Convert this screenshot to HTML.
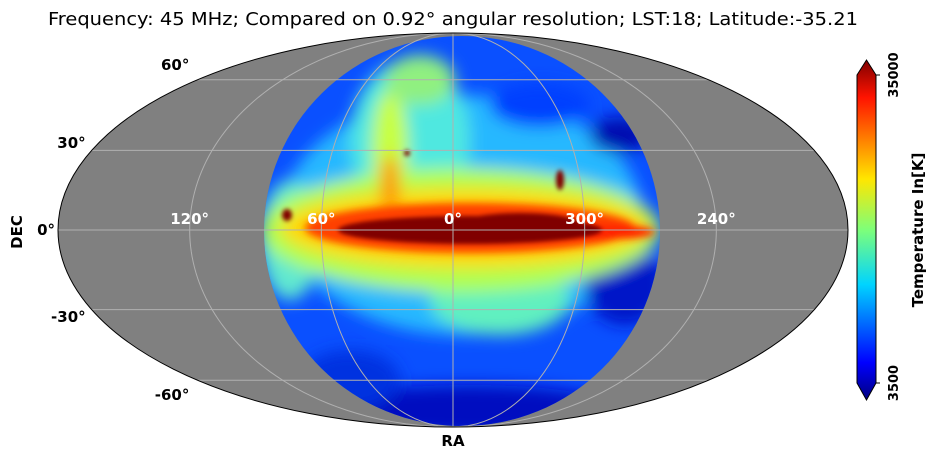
<!DOCTYPE html>
<html><head><meta charset="utf-8"><style>
body{margin:0;background:#fff;}
svg{display:block;font-family:"DejaVu Sans","Liberation Sans",sans-serif;}
</style></head><body>
<svg id="chart" width="936" height="458" viewBox="0 0 936 458" xmlns="http://www.w3.org/2000/svg">
<defs>
<clipPath id="ellClip"><ellipse cx="453" cy="230" rx="395" ry="197"/></clipPath>
<clipPath id="diskClip"><ellipse cx="462" cy="231" rx="198" ry="195"/></clipPath>
<filter id="b8" x="-50%" y="-50%" width="200%" height="200%"><feGaussianBlur stdDeviation="8"/></filter>
<filter id="b4" x="-50%" y="-50%" width="200%" height="200%"><feGaussianBlur stdDeviation="4"/></filter>
<filter id="b2" x="-50%" y="-50%" width="200%" height="200%"><feGaussianBlur stdDeviation="2"/></filter>
<linearGradient id="jet" x1="0" y1="1" x2="0" y2="0">
<stop offset="0" stop-color="#00007f"/><stop offset="0.11" stop-color="#0000ff"/>
<stop offset="0.34" stop-color="#00d4ff"/><stop offset="0.5" stop-color="#7dff7a"/>
<stop offset="0.65" stop-color="#ffe600"/><stop offset="0.89" stop-color="#ff1300"/>
<stop offset="1" stop-color="#7f0000"/></linearGradient>
</defs>
<text x="48" y="25" textLength="810" lengthAdjust="spacingAndGlyphs" font-size="18" fill="#000">Frequency: 45 MHz; Compared on 0.92° angular resolution; LST:18; Latitude:-35.21</text>
<ellipse cx="453" cy="230" rx="395" ry="197" fill="#808080"/>
<g clip-path="url(#diskClip)">
<rect x="250" y="30" width="420" height="400" fill="#0a50ff"/>
<g filter="url(#b8)">
<ellipse cx="462" cy="215" rx="180" ry="120" fill="#28b8ff"/>
<ellipse cx="410" cy="140" rx="60" ry="80" fill="#50e8e0"/>
<ellipse cx="500" cy="300" rx="70" ry="35" fill="#60f0c0"/>
<ellipse cx="290" cy="240" rx="30" ry="60" fill="#60e8d0"/>
<ellipse cx="470" cy="410" rx="150" ry="25" fill="#0010c0"/>
<ellipse cx="350" cy="380" rx="50" ry="30" fill="#0030e0"/>
<ellipse cx="620" cy="135" rx="30" ry="18" fill="#0010b0"/>
<ellipse cx="625" cy="285" rx="40" ry="40" fill="#0018c8"/>
<ellipse cx="540" cy="105" rx="50" ry="22" fill="#0040ff"/>
<ellipse cx="460" cy="230" rx="200" ry="62" fill="#b0ff50"/>
<ellipse cx="390" cy="150" rx="18" ry="60" fill="#c8ff40"/>
<ellipse cx="420" cy="80" rx="35" ry="25" fill="#90f080"/>
<ellipse cx="465" cy="228" rx="185" ry="40" fill="#ffd800"/>
<ellipse cx="390" cy="185" rx="9" ry="30" fill="#ff9000"/>
</g>
<g filter="url(#b4)">
<ellipse cx="470" cy="228" rx="165" ry="25" fill="#ff4000"/>
<ellipse cx="610" cy="232" rx="45" ry="7" fill="#ff2000"/>
</g>
<g filter="url(#b2)">
<ellipse cx="470" cy="230" rx="132" ry="14" fill="#800000"/>
<ellipse cx="520" cy="224" rx="60" ry="11" fill="#800000"/>
<ellipse cx="560" cy="180" rx="4" ry="10" fill="#800000"/>
<ellipse cx="287" cy="215" rx="5" ry="6" fill="#800000"/>
<circle cx="407" cy="153" r="3" fill="#800000"/>
</g>
</g>
<g id="grid" clip-path="url(#ellClip)" stroke="#b0b0b0" stroke-width="1" fill="none"></g>
<ellipse cx="453" cy="230" rx="395" ry="197" fill="none" stroke="#000" stroke-width="1"/>
<g id="labels"></g>
<text x="453" y="446" text-anchor="middle" font-size="15" font-weight="bold">RA</text>
<text transform="translate(22,232) rotate(-90)" text-anchor="middle" font-size="15" font-weight="bold">DEC</text>
<g>
<polygon points="857,75 866.5,60 876,75 876,383 866.5,400 857,383" fill="url(#jet)" stroke="#000" stroke-width="1"/>
<line x1="876" y1="75" x2="880" y2="75" stroke="#000"/>
<line x1="876" y1="383" x2="880" y2="383" stroke="#000"/>
<text transform="translate(898,75) rotate(-90)" text-anchor="middle" font-size="13" font-weight="bold">35000</text>
<text transform="translate(898,383) rotate(-90)" text-anchor="middle" font-size="13" font-weight="bold">3500</text>
<text transform="translate(923,230) rotate(-90)" text-anchor="middle" font-size="15" font-weight="bold">Temperature In[K]</text>
</g>
</svg>
<script>
const decTicks=[60,30,0,-30,-60];
const decLabels=["60°","30°","0°","-30°","-60°"];
const raTicks=[120,60,0,-60,-120];
const raLabels=["120°","60°","0°","300°","240°"];
const cx=453,cy=230,rx=395,ry=197;
const NS="http://www.w3.org/2000/svg";
function thetaOf(lat){const phi=lat*Math.PI/180;let t=phi;for(let i=0;i<50;i++){const f=2*t+Math.sin(2*t)-Math.PI*Math.sin(phi);const d=2+2*Math.cos(2*t);if(Math.abs(d)<1e-9)break;t-=f/d;}return t;}
function yOf(lat){return cy-ry*Math.sin(thetaOf(lat));}
function xOf(lon,lat){return cx-rx*(lon/180)*Math.cos(thetaOf(lat));}
const grid=document.getElementById('grid'),labels=document.getElementById('labels');
decTicks.forEach((d,i)=>{const y=yOf(d);
const l=document.createElementNS(NS,'line');l.setAttribute('x1',cx-rx);l.setAttribute('x2',cx+rx);l.setAttribute('y1',y);l.setAttribute('y2',y);


grid.appendChild(l);
const t=document.createElementNS(NS,'text');t.textContent=decLabels[i];
const xe=cx-rx*Math.cos(thetaOf(d));
const off=Math.abs(d)>=60?-8:(d===0?-3:-6);
t.setAttribute('x',xe+off);t.setAttribute('y',y+5-d*0.25);t.setAttribute('text-anchor','end');t.setAttribute('font-size','15');t.setAttribute('font-weight','bold');


labels.appendChild(t);});
raTicks.forEach((lon,i)=>{let p='';for(let lat=-90;lat<=90;lat+=2){p+=(lat===-90?'M':'L')+xOf(lon,lat).toFixed(2)+','+yOf(lat).toFixed(2);}
const e=document.createElementNS(NS,'path');e.setAttribute('d',p);


grid.appendChild(e);
const t=document.createElementNS(NS,'text');t.textContent=raLabels[i];
t.setAttribute('x',xOf(lon,0));t.setAttribute('y',cy-6);t.setAttribute('text-anchor','middle');t.setAttribute('font-size','15');t.setAttribute('font-weight','bold');t.setAttribute('fill','#fff');


labels.appendChild(t);});
</script>
</body></html>
